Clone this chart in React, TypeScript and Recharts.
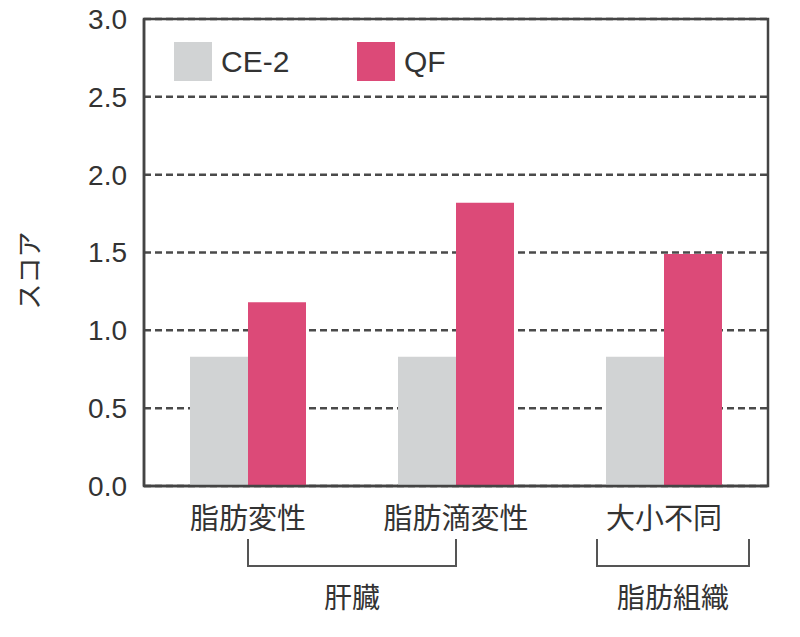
import React from 'react';
import {
  BarChart,
  Bar,
  XAxis,
  YAxis,
  CartesianGrid,
  ReferenceArea,
} from 'recharts';

const categories = ['脂肪変性', '脂肪滴変性', '大小不同'];
const ce2Values = [0.83, 0.83, 0.83];
const qfValues = [1.18, 1.82, 1.49];
const yTicks = [0, 0.5, 1.0, 1.5, 2.0, 2.5, 3.0];
const groups = [
  { label: '肝臓', first: 0, last: 1 },
  { label: '脂肪組織', first: 2, last: 2 },
];
const series = [
  { key: 'ce2', name: 'CE-2', color: '#d1d3d4' },
  { key: 'qf', name: 'QF', color: '#dc4a78' },
];

const data = categories.map((name, i) => ({
  name,
  ce2: ce2Values[i],
  qf: qfValues[i],
}));

const FONT = "'Liberation Sans', 'Noto Sans CJK JP', sans-serif";
const TEXT = '#333333';
const LINE = '#444444';
const BAND = 208;

const CategoryTick = (props: any) => {
  const { x, y, payload, index } = props;
  const group = groups.find((g) => g.first === index);
  let bracket = null;
  if (group) {
    let x1: number;
    let x2: number;
    if (group.last > group.first) {
      x1 = x;
      x2 = x + (group.last - group.first) * BAND;
    } else {
      x1 = x - 67;
      x2 = x + 85;
    }
    const top = y + 53;
    const bottom = y + 80;
    bracket = (
      <g>
        <path
          d={`M${x1},${top} L${x1},${bottom} L${x2},${bottom} L${x2},${top}`}
          fill="none"
          stroke="#555"
          strokeWidth={2}
        />
        <text
          x={(x1 + x2) / 2}
          y={y + 122}
          textAnchor="middle"
          fontSize={28}
          fontFamily={FONT}
          fill={TEXT}
        >
          {group.label}
        </text>
      </g>
    );
  }
  return (
    <g>
      <text
        x={x}
        y={y + 43}
        textAnchor="middle"
        fontSize={29}
        fontFamily={FONT}
        fill={TEXT}
      >
        {payload.value}
      </text>
      {bracket}
    </g>
  );
};

const YLabel = (props: any) => {
  const { viewBox } = props;
  const cy = viewBox.y + viewBox.height / 2 + 18;
  return (
    <text
      x={30}
      y={cy}
      transform={`rotate(-90, 30, ${cy})`}
      textAnchor="middle"
      dominantBaseline="central"
      fontSize={26}
      fontFamily={FONT}
      fill={TEXT}
    >
      スコア
    </text>
  );
};

const App = () => {
  return (
    <div style={{ position: 'absolute', left: 0, top: 0, width: 800, height: 637, background: '#fff' }}>
      <BarChart
        width={800}
        height={637}
        data={data}
        margin={{ top: 19, right: 32, bottom: 121, left: 0 }}
        barGap={0}
        barSize={58}
      >
        <CartesianGrid
          horizontal
          vertical={false}
          stroke="#4a4a4a"
          strokeWidth={2.5}
          strokeDasharray="7 4"
        />
        <XAxis
          dataKey="name"
          height={30}
          tickLine={false}
          tickSize={0}
          tickMargin={0}
          axisLine={{ stroke: LINE, strokeWidth: 2.5 }}
          tick={<CategoryTick />}
          interval={0}
        />
        <YAxis
          width={144}
          domain={[0, 3]}
          ticks={yTicks}
          tickFormatter={(v: number) => v.toFixed(1)}
          tickLine={false}
          tickSize={0}
          tickMargin={17}
          axisLine={{ stroke: LINE, strokeWidth: 2.5 }}
          tick={{ fontSize: 28, fontFamily: FONT, fill: TEXT }}
          label={<YLabel />}
        />
        {series.map((s) => (
          <Bar key={s.key} dataKey={s.key} name={s.name} fill={s.color} isAnimationActive={false} />
        ))}
        <ReferenceArea y1={0} y2={3} fill="none" stroke={LINE} strokeWidth={2.5} />
      </BarChart>
      <div style={{ position: 'absolute', left: 174, top: 42, display: 'flex', fontFamily: FONT }}>
        {series.map((s, i) => (
          <div
            key={s.key}
            style={{ display: 'flex', alignItems: 'center', width: i === 0 ? 183 : 'auto' }}
          >
            <div style={{ width: 38, height: 39, background: s.color }} />
            <span style={{ marginLeft: 9, fontSize: 30, color: TEXT, lineHeight: '39px' }}>{s.name}</span>
          </div>
        ))}
      </div>
    </div>
  );
};

export default App;
